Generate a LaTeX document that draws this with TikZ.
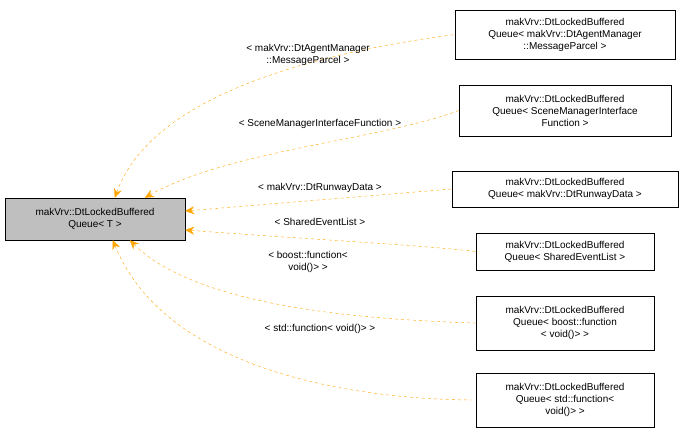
\documentclass[tikz,border=0pt]{standalone}
\usepackage{fontspec}
\setmainfont{Liberation Sans}
\usetikzlibrary{arrows.meta}
\begin{document}
\begin{tikzpicture}
  [x=1pt, y=-1pt, >=stealth,
    font=\fontsize{10}{12}\selectfont, align=center,
    cls/.style={
      rectangle, draw, inner sep=1pt
    },
    inh/.style={
      <-, draw={rgb,255:red,255;green,165;blue,0}, dashed, thin,
      >={Stealth[length=9pt,width=8pt]}
    },
  ]
  \useasboundingbox (0,0) rectangle (685,439);
  \node[cls, fill={rgb,255:red,191;green,191;blue,191}, minimum width=180pt, minimum height=42pt] (base) at (95,219) {makVrv::DtLockedBuffered\\Queue< T >};

  \node[cls, minimum width=220pt, minimum height=49pt] (q1) at (565,34.5) {makVrv::DtLockedBuffered\\Queue< makVrv::DtAgentManager\\::MessageParcel >};
  \node[cls, minimum width=212pt, minimum height=51pt] (q2) at (565,110.5) {makVrv::DtLockedBuffered\\Queue< SceneManagerInterface\\Function >};
  \node[cls, minimum width=226pt, minimum height=36pt] (q3) at (565,189) {makVrv::DtLockedBuffered\\Queue< makVrv::DtRunwayData >};
  \node[cls, minimum width=178pt, minimum height=37pt] (q4) at (565,251.5) {makVrv::DtLockedBuffered\\Queue< SharedEventList >};
  \node[cls, minimum width=178pt, minimum height=54pt] (q5) at (565,323) {makVrv::DtLockedBuffered\\Queue< boost::function\\< void()> >};
  \node[cls, minimum width=178pt, minimum height=54pt] (q6) at (565,400) {makVrv::DtLockedBuffered\\Queue< std::function<\\void()> >};

  % Inheritance edges
  \draw[inh] (base.north west) ++(110,0) .. controls (150,100) and (300,55) .. (q1.west);
  \draw[inh] (base.north west) ++(140,0) .. controls (230,150) and (380,140) .. (q2.west);
  \draw[inh] (base.east |- 0,211) -- (q3.west);
  \draw[inh] (base.east |- 0,230) .. controls (320,240) and (420,245) .. (q4.west);
  \draw[inh] (base.south west) ++(125,0) .. controls (200,310) and (380,320) .. (q5.west);
  \draw[inh] (base.south west) ++(108,0) .. controls (170,380) and (380,400) .. (q6.west);

  % Edge labels
  \node (l1) at (308,55) {< makVrv::DtAgentManager\\::MessageParcel >};
  \node (l2) at (320,124) {< SceneManagerInterfaceFunction >};
  \node (l3) at (320,188) {< makVrv::DtRunwayData >};
  \node (l4) at (320,222) {< SharedEventList >};
  \node (l5) at (308,262) {< boost::function<\\void()> >};
  \node (l6) at (320,329) {< std::function< void()> >};
\end{tikzpicture}
\end{document}
